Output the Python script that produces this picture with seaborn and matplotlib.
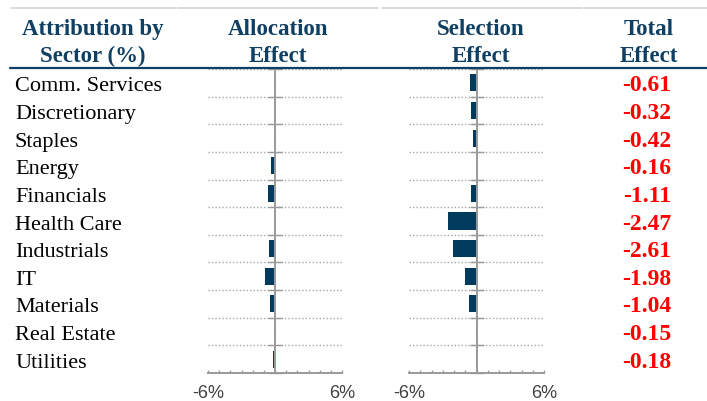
import numpy as np
import matplotlib
matplotlib.use("Agg")
import matplotlib.pyplot as plt
import matplotlib.transforms as mtransforms
from matplotlib.lines import Line2D
import seaborn as sns

# === DATA ===
sectors = ["Comm. Services", "Discretionary", "Staples", "Energy", "Financials",
           "Health Care", "Industrials", "IT", "Materials", "Real Estate", "Utilities"]
allocation = [-0.05, -0.02, -0.05, -0.33, -0.60, 0.02, -0.56, -0.92, -0.42, -0.08, -0.20]
selection = [-0.62, -0.45, -0.35, 0.06, -0.53, -2.50, -2.13, -1.02, -0.64, -0.05, -0.01]
total = ["-0.61", "-0.32", "-0.42", "-0.16", "-1.11", "-2.47", "-2.61", "-1.98", "-1.04", "-0.15", "-0.18"]
xtick_labels = ["-6%", "6%"]

sns.set_style("white")
plt.rcParams["font.family"] = ["Liberation Serif", "DejaVu Serif"]

NAVY = "#0f3f62"
BAR = "#003a5c"
GREY = "#9a9a9a"

W, H = 707, 401
fig = plt.figure(figsize=(W / 100, H / 100), dpi=100)


def fx(px):
    return px / W


def fy(py):
    return 1 - py / H


# chart area: rows from y=69 to y=373 px
top_px, bot_px = 69, 373
ax_alloc = fig.add_axes([fx(208), fy(bot_px), (342 - 208) / W, (bot_px - top_px) / H])
ax_sel = fig.add_axes([fx(409), fy(bot_px), (544 - 409) / W, (bot_px - top_px) / H])

n = len(sectors)
for ax, vals in [(ax_alloc, allocation), (ax_sel, selection)]:
    sns.barplot(x=vals, y=sectors, orient="h", color=BAR, saturation=1,
                width=0.62, linewidth=0, ax=ax)
    ax.set_xlim(-6, 6)
    ax.set_ylim(n - 0.5, -0.5)
    ax.set_xlabel("")
    ax.set_ylabel("")
    ax.set_axisbelow(True)

    # boundaries between sectors -> dotted grid + small crosses on the zero line
    ax.set_yticks(np.arange(n + 1) - 0.5)
    ax.set_yticklabels([])
    ax.yaxis.grid(True, linestyle=(0, (1, 1.5)), color="#a6a6a6", linewidth=1.0)
    ax.tick_params(axis="y", direction="inout", length=9.5, width=1, color=GREY, left=True)

    ax.set_xticks(np.arange(-6, 7))
    ax.set_xticklabels([xtick_labels[0]] + [""] * 11 + [xtick_labels[1]],
                       family=["Liberation Sans", "DejaVu Sans"])
    ax.tick_params(axis="x", direction="in", length=2.5, width=1, color=GREY,
                   labelsize=13, labelcolor="#404040", pad=9, bottom=True)

    for side in ["top", "right"]:
        ax.spines[side].set_visible(False)
    ax.spines["left"].set_position(("data", 0))
    ax.spines["left"].set_color(GREY)
    ax.spines["left"].set_linewidth(1.4)
    ax.spines["bottom"].set_color(GREY)
    ax.spines["bottom"].set_linewidth(1.4)

# sector names and total effect, aligned to the chart rows
row_tf = mtransforms.blended_transform_factory(fig.transFigure, ax_alloc.transData)
row_tf = mtransforms.offset_copy(row_tf, fig=fig, x=0, y=-8.5, units="dots")
for i, (name, tot) in enumerate(zip(sectors, total)):
    fig.text(fx(15), i, name, transform=row_tf, ha="left", va="baseline",
             fontsize=16, color="black")
    fig.text(fx(647), i, tot, transform=row_tf, ha="center", va="baseline",
             fontsize=17, fontweight="bold", color="#ff0000")

# column headers
headers = [(93, "Attribution by", "Sector (%)"),
           (278, "Allocation", "Effect"),
           (481, "Selection", "Effect"),
           (649, "Total", "Effect")]
for xc, l1, l2 in headers:
    fig.text(fx(xc), fy(35), l1, ha="center", va="baseline", fontsize=16.5,
             fontweight="bold", color=NAVY)
    fig.text(fx(xc), fy(62.5), l2, ha="center", va="baseline", fontsize=16.5,
             fontweight="bold", color=NAVY)

# light top rules and navy header rule
for x0, x1 in [(11, 176), (178, 378), (382, 582), (584, 707)]:
    fig.add_artist(Line2D([fx(x0), fx(x1)], [fy(8), fy(8)], color="#d6d6d6", lw=1.2))
fig.add_artist(Line2D([fx(10), fx(707)], [fy(68.3), fy(68.3)], color=NAVY, lw=1.6))

fig.savefig("out.png", dpi=100)
